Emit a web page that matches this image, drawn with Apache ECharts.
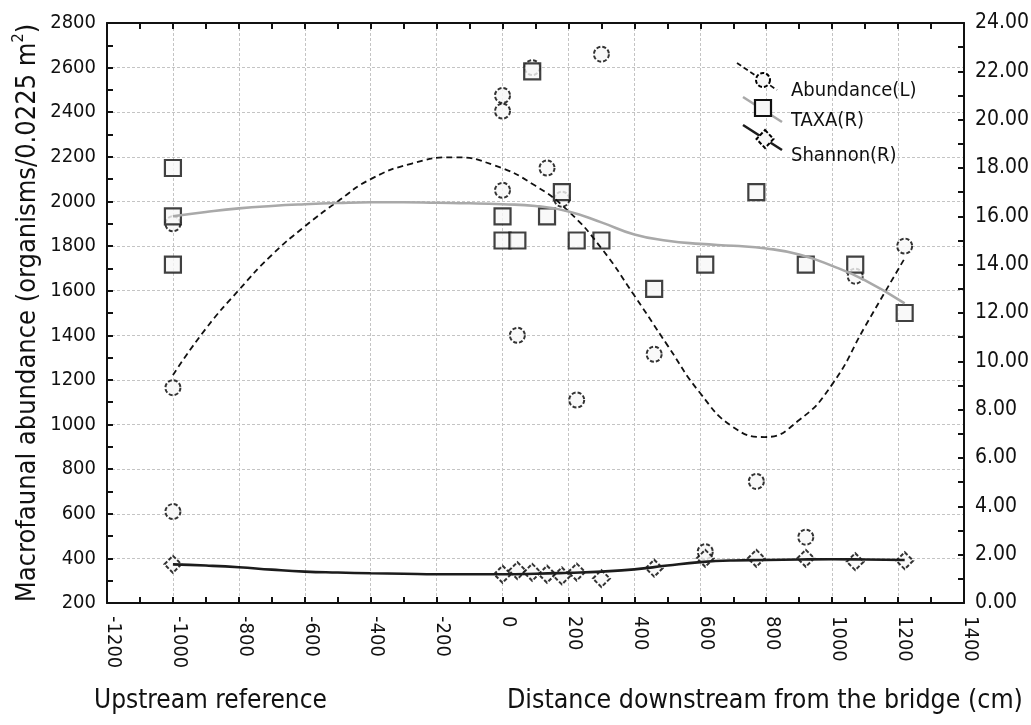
<!DOCTYPE html>
<html>
<head>
<meta charset="utf-8">
<script src="https://cdn.jsdelivr.net/npm/echarts@6/dist/echarts.min.js"></script>
<style>
  html, body { margin: 0; padding: 0; background: #fff; }
  #chart { width: 1031px; height: 725px; }
</style>
</head>
<body>
<div id="chart"></div>
<script>
// Sampling positions (cm from the bridge; -1000 = upstream reference)
const abundX = [-1000, -1000, -1000, 0, 0, 0, 45, 90, 135, 180, 225, 300, 460, 615, 770, 920, 1070, 1220];
const abundY = [1900, 1165, 610, 2475, 2405, 2050, 1400, 2600, 2150, 2010, 1110, 2660, 1315, 430, 745, 495, 1665, 1800];

const taxaX = [-1000, -1000, -1000, 0, 0, 45, 90, 135, 180, 225, 300, 460, 615, 770, 920, 1070, 1220];
const taxaY = [18, 16, 14, 16, 15, 15, 22, 16, 17, 15, 15, 13, 14, 17, 14, 14, 12];

const shanX = [-1000, 0, 45, 90, 135, 180, 225, 300, 460, 615, 770, 920, 1070, 1220];
const shanY = [1.60, 1.19, 1.34, 1.27, 1.19, 1.12, 1.28, 1.01, 1.44, 1.85, 1.85, 1.85, 1.71, 1.75];

// Smoothed fits, sampled along the x range
const abundFitX = [-1000, -900, -800, -700, -600, -500, -400, -275, -150, -25, 100, 200, 300, 400, 500, 600, 700, 795, 900, 1000, 1100, 1220];
const abundFitY = [1222, 1430, 1603, 1760, 1888, 2000, 2100, 2170, 2198, 2162, 2070, 1956, 1790, 1578, 1356, 1140, 988, 944, 1020, 1180, 1440, 1745];

const fitX = [-1000, -900, -800, -700, -600, -500, -400, -300, -200, -100, 0, 100, 200, 300, 400, 500, 600, 700, 800, 900, 1000, 1100, 1220];
const taxaFitY = [16.0, 16.18, 16.33, 16.43, 16.5, 16.55, 16.58, 16.58, 16.56, 16.54, 16.5, 16.43, 16.2, 15.75, 15.25, 14.99, 14.86, 14.78, 14.67, 14.42, 13.95, 13.35, 12.4];
const shanFitY = [1.60, 1.55, 1.48, 1.38, 1.30, 1.26, 1.23, 1.21, 1.19, 1.19, 1.19, 1.21, 1.25, 1.30, 1.39, 1.55, 1.69, 1.76, 1.78, 1.80, 1.81, 1.80, 1.78];

const xTitleLeft = 'Upstream reference';
const xTitleRight = 'Distance downstream from the bridge (cm)';
const legendNames = ['Abundance(L)', 'TAXA(R)', 'Shannon(R)'];

const FONT = "'DejaVu Sans Condensed','Liberation Sans Narrow','Arial Narrow',sans-serif";
const INK = '#111';
const FILL = '#f7f7f7';

const pairs = (xs, ys) => xs.map((x, i) => [x, ys[i]]);

const chart = echarts.init(document.getElementById('chart'), null, { renderer: 'canvas' });

const axisLine = { show: true, onZero: false, lineStyle: { color: INK, width: 2 } };
const tick = { show: true, inside: true, length: 6, lineStyle: { color: INK, width: 2 } };
const minor = { show: true, splitNumber: 2, length: 6, lineStyle: { color: INK, width: 2 } };
const gridLine = { show: true, lineStyle: { color: '#c4c4c4', width: 1, type: [3, 2] } };
const label = { color: INK, fontFamily: FONT, fontSize: 20 };

const option = {
  animation: false,
  backgroundColor: '#fff',
  grid: { left: 107, right: 67, top: 23, bottom: 122, containLabel: false, outerBoundsMode: 'none' },
  xAxis: [
    {
      type: 'value', position: 'bottom', min: -1200, max: 1400, interval: 200,
      axisLine, axisTick: tick, minorTick: minor, splitLine: gridLine,
      axisLabel: Object.assign({ rotate: -90, margin: 13, verticalAlign: 'bottom', lineHeight: 12, formatter: v => String(v) }, label)
    },
    {
      type: 'value', position: 'top', min: -1200, max: 1400, interval: 200,
      axisLine, axisTick: tick, minorTick: minor,
      splitLine: { show: false }, axisLabel: { show: false }
    }
  ],
  yAxis: [
    {
      type: 'value', position: 'left', min: 200, max: 2800, interval: 200,
      axisLine, axisTick: tick, minorTick: minor, splitLine: gridLine,
      axisLabel: Object.assign({ margin: 11, formatter: v => String(v) }, label),
      name: '{a|Macrofaunal abundance (organisms/0.0225 m}{s|2}{a|)}',
      nameLocation: 'middle', nameRotate: 90, nameGap: 62, nameMoveOverlap: false,
      nameTextStyle: {
        rich: {
          a: { fontFamily: FONT, fontSize: 27, color: INK, lineHeight: 34 },
          s: { fontFamily: FONT, fontSize: 16, color: INK, lineHeight: 34, verticalAlign: 'top', padding: [0, 0, 12, 0] }
        }
      }
    },
    {
      type: 'value', position: 'right', min: 0, max: 24, interval: 2,
      axisLine, axisTick: tick, minorTick: minor, splitLine: { show: false },
      axisLabel: Object.assign({ margin: 11, formatter: v => v.toFixed(2) }, label, { fontSize: 21 })
    }
  ],
  series: [
    {
      name: legendNames[0], type: 'scatter', xAxisIndex: 0, yAxisIndex: 0,
      data: pairs(abundX, abundY), symbol: 'circle', symbolSize: 15,
      itemStyle: { color: FILL, borderColor: '#000', borderWidth: 2, borderType: [4, 2] }, z: 3
    },
    {
      name: legendNames[1], type: 'scatter', xAxisIndex: 0, yAxisIndex: 1,
      data: pairs(taxaX, taxaY), symbol: 'rect', symbolSize: 16,
      itemStyle: { color: FILL, borderColor: INK, borderWidth: 2.2 }, z: 3
    },
    {
      name: legendNames[2], type: 'scatter', xAxisIndex: 0, yAxisIndex: 1,
      data: pairs(shanX, shanY), symbol: 'diamond', symbolSize: [17, 17],
      itemStyle: { color: FILL, borderColor: '#000', borderWidth: 2, borderType: [4, 2] }, z: 3
    },
    {
      type: 'line', xAxisIndex: 0, yAxisIndex: 0, data: pairs(abundFitX, abundFitY),
      smooth: 0.5, showSymbol: false, symbol: 'none',
      lineStyle: { color: INK, width: 1.8, type: [6, 4] }, z: 4
    },
    {
      type: 'line', xAxisIndex: 0, yAxisIndex: 1, data: pairs(fitX, taxaFitY),
      smooth: 0.5, showSymbol: false, symbol: 'none',
      lineStyle: { color: '#a9a9a9', width: 2.6 }, z: 4
    },
    {
      type: 'line', xAxisIndex: 0, yAxisIndex: 1, data: pairs(fitX, shanFitY),
      smooth: 0.5, showSymbol: false, symbol: 'none',
      lineStyle: { color: '#1c1c1c', width: 2.6 }, z: 4
    }
  ],
  graphic: [
    // legend: Abundance
    { type: 'line', shape: { x1: 737, y1: 63, x2: 777, y2: 90 }, style: { stroke: INK, lineWidth: 1.8, lineDash: [5, 3] }, z: 10 },
    { type: 'circle', shape: { cx: 763, cy: 80, r: 7 }, style: { fill: FILL, stroke: '#000', lineWidth: 2, lineDash: [4, 2] }, z: 11 },
    { type: 'text', x: 791, y: 91, style: { text: legendNames[0], fill: INK, font: '20px ' + FONT, verticalAlign: 'middle' }, z: 11 },
    // legend: TAXA
    { type: 'line', shape: { x1: 743, y1: 97, x2: 782, y2: 122 }, style: { stroke: '#a9a9a9', lineWidth: 2.6 }, z: 10 },
    { type: 'rect', shape: { x: 755, y: 100, width: 16, height: 16 }, style: { fill: FILL, stroke: INK, lineWidth: 2.2 }, z: 11 },
    { type: 'text', x: 791, y: 121, style: { text: legendNames[1], fill: INK, font: '20px ' + FONT, verticalAlign: 'middle' }, z: 11 },
    // legend: Shannon
    { type: 'line', shape: { x1: 743, y1: 125, x2: 782, y2: 150 }, style: { stroke: '#1c1c1c', lineWidth: 2.6 }, z: 10 },
    { type: 'polygon', shape: { points: [[765, 130], [773.5, 139], [765, 148], [756.5, 139]] }, style: { fill: FILL, stroke: '#000', lineWidth: 2, lineDash: [4, 2] }, z: 11 },
    { type: 'text', x: 791, y: 156, style: { text: legendNames[2], fill: INK, font: '20px ' + FONT, verticalAlign: 'middle' }, z: 11 },
    // bottom titles
    { type: 'text', x: 94, y: 701, style: { text: xTitleLeft, fill: INK, font: '26px ' + FONT, verticalAlign: 'middle' } },
    { type: 'text', x: 507, y: 701, style: { text: xTitleRight, fill: INK, font: '26.5px ' + FONT, verticalAlign: 'middle' } }
  ]
};

chart.setOption(option);
</script>
</body>
</html>
